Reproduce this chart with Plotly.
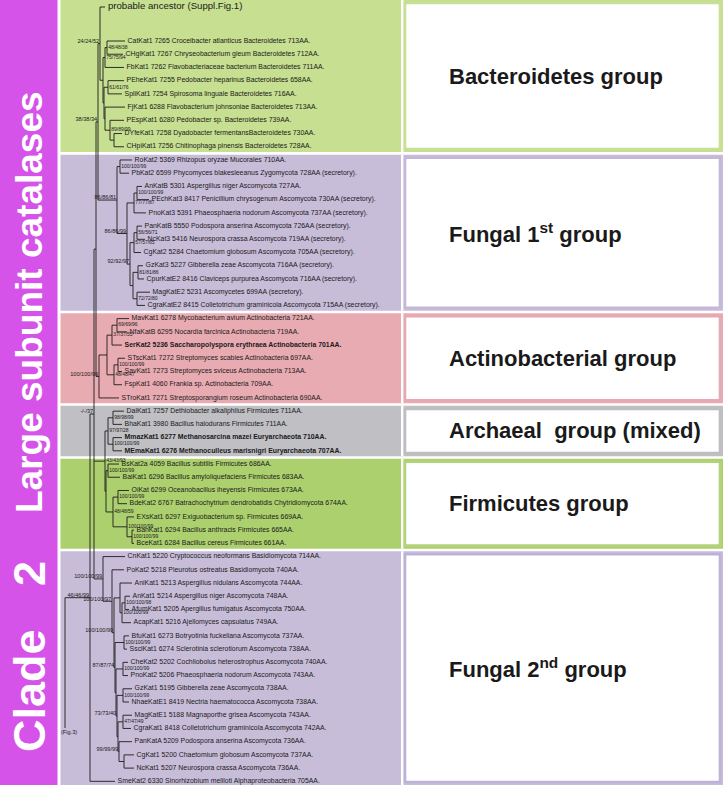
import re
import plotly.graph_objects as go

# ---------------- data ----------------
# Tree topology (Newick, internal nodes named, branch lengths in drawing units)
BACT = ("(((CatKat1:18,CHglKat1:16)N48:2,FbKat1:19)B1:2,((PEheKat1:16,SpliKat1:14)B2:4,"
        "(FjKat1:20,(PEspKat1:14,(DYfeKat1:8,CHpiKat1:10)Z1:4)B3:5)Bx:1)Brest:1)Bact:3")
FUNG1 = ("((RoKat2:12,PbKat2:9)RP:3,(((AnKatB:5,PEchKat3:12)AP:3,PnoKat3:12)AscA:7,"
         "(((PanKatB:5,NcKat3:8)PN:3,CgKat2:7)Sord:4,((GzKat3:5,CpurKatE2:6)GC:5,"
         "(MagKatE2:13,CgraKatE2:8)MC:4)GM:3)AscB:3)Asco:10)F1:19")
ACTINO = ("((((MavKat1:12,NfaKatB:10)MN:5,SerKat2:10)A2:5,((STscKat1:7,SavKat1:4)SS:4,"
          "FspKat1:8)A3:7)A1:8,STroKat1:20)Act:3")
ARCH_FIRM = ("(((DalKat1:11,BhaKat1:9)DB:5,(MmazKat1:9,MEmaKat1:9)MM:5)Ar:3,"
             "((BsKat2a:11,BaiKat1:12)BB:2,((OiKat:11,BdeKat2:9)OB:5,"
             "(EXsKat1:7,(BanKat1:2,BceKat1:2)BB2:5)EB:14)Fi2:7)Fi:1)AF:11")
FUNG2 = ("(CnKat1:22,(PoKat2:12,((AniKat1:12,((AnKat1:5,AfumKat1:4)Fd:3,AcapKat1:9)Fe:2)Fc:6,"
         "((BfuKat1:5,SsclKat1:3)Bf:9,((CheKat2:5,PnoKat2:5)Ch:7,((GzKat1:9,NhaeKatE1:6)Gz2:6,"
         "((MagKatE1:9,CgraKat1:8)Mg:5,(PanKatA:13,(CgKat1:10,NcKat1:10)Fp:5)Fq:1)F2g:1)F2f:1)F2e:1)F2d:1)"
         "F2c:2)F2b:9)F2a:9")
U3 = "((ANC:5," + BACT + ")Xanc:2," + FUNG1 + ")U3:2"
U2 = "(" + U3 + "," + ACTINO + ")U2:2"
T2 = "(" + U2 + "," + ARCH_FIRM + "," + FUNG2 + ")T2:4"
NEWICK = "((" + T2 + ",SmeKat2:25)T1:25,FIG3:0)R;"

LEAF_TEXT = {
    "ANC": "probable ancestor (Suppl.Fig.1)",
    "CatKat1": "CatKat1 7265 Croceibacter atlanticus Bacteroidetes 713AA.",
    "CHglKat1": "CHglKat1 7267 Chryseobacterium gleum Bacteroidetes 712AA.",
    "FbKat1": "FbKat1 7262 Flavobacteriaceae bacterium Bacteroidetes 711AA.",
    "PEheKat1": "PEheKat1 7255 Pedobacter heparinus Bacteroidetes 658AA.",
    "SpliKat1": "SpliKat1 7254 Spirosoma linguale Bacteroidetes 716AA.",
    "FjKat1": "FjKat1 6288 Flavobacterium johnsoniae Bacteroidetes 713AA.",
    "PEspKat1": "PEspKat1 6280 Pedobacter sp. Bacteroidetes 739AA.",
    "DYfeKat1": "DYfeKat1 7258 Dyadobacter fermentansBacteroidetes 730AA.",
    "CHpiKat1": "CHpiKat1 7256 Chitinophaga pinensis Bacteroidetes 728AA.",
    "RoKat2": "RoKat2 5369 Rhizopus oryzae Mucorales 710AA.",
    "PbKat2": "PbKat2 6599 Phycomyces blakesleeanus Zygomycota 728AA (secretory).",
    "AnKatB": "AnKatB 5301 Aspergillus niger Ascomycota 727AA.",
    "PEchKat3": "PEchKat3 8417 Penicillium chrysogenum Ascomycota 730AA (secretory).",
    "PnoKat3": "PnoKat3 5391 Phaeosphaeria nodorum Ascomycota 737AA (secretory).",
    "PanKatB": "PanKatB 5550 Podospora anserina Ascomycota 726AA (secretory).",
    "NcKat3": "NcKat3 5416 Neurospora crassa Ascomycota 719AA (secretory).",
    "CgKat2": "CgKat2 5284 Chaetomium globosum Ascomycota 705AA (secretory).",
    "GzKat3": "GzKat3 5227 Gibberella zeae Ascomycota 716AA (secretory).",
    "CpurKatE2": "CpurKatE2 8416 Claviceps purpurea Ascomycota 716AA (secretory).",
    "MagKatE2": "MagKatE2 5231 Ascomycetes 699AA (secretory).",
    "CgraKatE2": "CgraKatE2 8415 Colletotrichum graminicola Ascomycota 715AA (secretory).",
    "MavKat1": "MavKat1 6278 Mycobacterium avium Actinobacteria 721AA.",
    "NfaKatB": "NfaKatB 6295 Nocardia farcinica Actinobacteria 719AA.",
    "SerKat2": "SerKat2 5236 Saccharopolyspora erythraea Actinobacteria 701AA.",
    "STscKat1": "STscKat1 7272 Streptomyces scabies Actinobacteria 697AA.",
    "SavKat1": "SavKat1 7273 Streptomyces sviceus Actinobacteria 713AA.",
    "FspKat1": "FspKat1 4060 Frankia sp. Actinobacteria 709AA.",
    "STroKat1": "STroKat1 7271 Streptosporangium roseum Actinobacteria 690AA.",
    "DalKat1": "DalKat1 7257 Dethiobacter alkaliphilus Firmicutes 711AA.",
    "BhaKat1": "BhaKat1 3980 Bacillus halodurans Firmicutes 711AA.",
    "MmazKat1": "MmazKat1 6277 Methanosarcina mazei Euryarchaeota 710AA.",
    "MEmaKat1": "MEmaKat1 6276 Methanoculleus marisnigri Euryarchaeota 707AA.",
    "BsKat2a": "BsKat2a 4059 Bacillus subtilis Firmicutes 686AA.",
    "BaiKat1": "BaiKat1 6296 Bacillus amyloliquefaciens Firmicutes 683AA.",
    "OiKat": "OiKat 6299 Oceanobacillus iheyensis Firmicutes 673AA.",
    "BdeKat2": "BdeKat2 6767 Batrachochytrium dendrobatidis Chytridiomycota 674AA.",
    "EXsKat1": "EXsKat1 6297 Exiguobacterium sp. Firmicutes 669AA.",
    "BanKat1": "BanKat1 6294 Bacillus anthracis Firmicutes 665AA.",
    "BceKat1": "BceKat1 6284 Bacillus cereus Firmicutes 661AA.",
    "CnKat1": "CnKat1 5220 Cryptococcus neoformans Basidiomycota 714AA.",
    "PoKat2": "PoKat2 5218 Pleurotus ostreatus Basidiomycota 740AA.",
    "AniKat1": "AniKat1 5213 Aspergillus nidulans Ascomycota 744AA.",
    "AnKat1": "AnKat1 5214 Aspergillus niger Ascomycota 748AA.",
    "AfumKat1": "AfumKat1 5205 Apergillus fumigatus Ascomycota 750AA.",
    "AcapKat1": "AcapKat1 5216 Ajellomyces capsulatus 749AA.",
    "BfuKat1": "BfuKat1 6273 Botryotinia fuckeliana Ascomycota 737AA.",
    "SsclKat1": "SsclKat1 6274 Sclerotinia sclerotiorum Ascomycota 738AA.",
    "CheKat2": "CheKat2 5202 Cochliobolus heterostrophus Ascomycota 740AA.",
    "PnoKat2": "PnoKat2 5206 Phaeosphaeria nodorum Ascomycota 743AA.",
    "GzKat1": "GzKat1 5195 Gibberella zeae Ascomycota 738AA.",
    "NhaeKatE1": "NhaeKatE1 8419 Nectria haematococca Ascomycota 738AA.",
    "MagKatE1": "MagKatE1 5188 Magnaporthe grisea Ascomycota 743AA.",
    "CgraKat1": "CgraKat1 8418 Colletotrichum graminicola Ascomycota 742AA.",
    "PanKatA": "PanKatA 5209 Podospora anserina Ascomycota 736AA.",
    "CgKat1": "CgKat1 5200 Chaetomium globosum Ascomycota 737AA.",
    "NcKat1": "NcKat1 5207 Neurospora crassa Ascomycota 736AA.",
    "SmeKat2": "SmeKat2 6330 Sinorhizobium meliloti Alphaproteobacteria 705AA.",
    "FIG3": "(Fig.3)",
}
BOLD_LEAVES = ["SerKat2", "MmazKat1", "MEmaKat1"]

SUPPORT = {
    "Xanc": "24/24/52", "U3": "38/38/34", "N48": "48/48/38", "B1": "75/75/94",
    "B2": "61/61/76", "B3": "89/89/99", "F1": "86/86/81", "RP": "100/100/99",
    "Asco": "86/86/99", "AP": "100/100/99", "AscA": "77/77/87", "AscB": "92/92/97",
    "PN": "56/56/71", "Sord": "57/57/65", "GC": "81/81/86", "MC": "72/72/80",
    "Act": "100/100/99", "MN": "69/69/96", "A2": "37/37/55", "SS": "100/100/99",
    "A3": "48/48/47", "T2": "-/-/37", "AF": "43/43/93", "Ar": "97/97/28",
    "DB": "98/98/99", "MM": "100/100/99", "BB": "100/100/99", "OB": "100/100/99",
    "Fi2": "48/48/59", "EB": "100/100/99", "BB2": "100/100/99", "F2a": "100/100/99",
    "F2b": "100/100/97", "F2c": "100/100/99", "Fd": "100/100/98", "Fe": "100/100/99",
    "Bf": "100/100/99", "F2d": "87/87/74", "Ch": "100/100/99", "Gz2": "100/100/99",
    "F2f": "73/73/40", "Mg": "47/47/49", "Fq": "99/99/99", "T1": "46/46/99",
}
LEFT_SUPPORT = ["Xanc", "U3", "F1", "Asco", "AscB", "Act", "T2", "F2a", "F2b",
                "F2c", "F2d", "F2f", "Fq", "T1"]

GROUP_NAMES = ["Bacteroidetes group", "Fungal 1<sup>st</sup> group", "Actinobacterial group",
               "Archaeal\u00a0 group (mixed)", "Firmicutes group", "Fungal 2<sup>nd</sup> group"]
GROUP_FIRST_LEAF = ["CatKat1", "RoKat2", "MavKat1", "DalKat1", "BsKat2a", "CnKat1"]
GROUP_FILL = ["#c6df90", "#c8bdd9", "#e9abb2", "#bfbfc4", "#add06f", "#c8bdd9"]
GROUP_EDGE = ["#c8e096", "#c4b8da", "#e6a9b2", "#bdbdc2", "#b2d37a", "#bcb1d6"]
SIDE_TITLE = "Large subunit catalases"
CLADE_WORD, CLADE_NUM = "Clade", "2"

# ---------------- layout constants ----------------
W, H = 723, 785
FONT = "Arial, 'Liberation Sans', sans-serif"
BAND_COLOR = "#d653ea"
ROOT_X = 65
Y0, STEP = 41, 13.22
ANC_Y, FIG3_Y = 7, 728
PANEL_X0, PANEL_X1 = 60.5, 401
BOX_X0, BOX_X1 = 404, 721


def parse(s):
    pos = 0

    def node():
        nonlocal pos
        children = []
        if s[pos] == "(":
            pos += 1
            while True:
                children.append(node())
                if s[pos] == ",":
                    pos += 1
                    continue
                if s[pos] == ")":
                    pos += 1
                    break
        m = re.match(r"([^:,();]*)(?::([0-9.]+))?", s[pos:])
        pos += m.end()
        return {"name": m.group(1), "len": float(m.group(2) or 0), "children": children}

    return node()


root = parse(NEWICK)
leaves = []


def place(n, px):
    n["x"] = px + n["len"]
    for c in n["children"]:
        place(c, n["x"])
    if not n["children"]:
        leaves.append(n)


place(root, ROOT_X)
k = 0
for lf in leaves:
    if lf["name"] == "ANC":
        lf["y"] = ANC_Y
    elif lf["name"] == "FIG3":
        lf["y"] = FIG3_Y
    else:
        lf["y"] = Y0 + k * STEP
        k += 1


def sety(n):
    if n["children"]:
        for c in n["children"]:
            sety(c)
        n["y"] = (n["children"][0]["y"] + n["children"][-1]["y"]) / 2


sety(root)

xs, ys = [], []
internal = []


def segs(n):
    if n["children"]:
        internal.append(n)
        xs.extend([n["x"], n["x"], None])
        ys.extend([n["children"][0]["y"], n["children"][-1]["y"], None])
        for c in n["children"]:
            xs.extend([n["x"], c["x"], None])
            ys.extend([c["y"], c["y"], None])
            segs(c)


segs(root)
leaf_y = {lf["name"]: lf["y"] for lf in leaves}
leaf_names = [lf["name"] for lf in leaves if lf["name"] not in ("ANC", "FIG3")]

fig = go.Figure()
shapes = [dict(type="rect", xref="x", yref="y", x0=0, x1=57.5, y0=0, y1=H,
               fillcolor=BAND_COLOR, line_width=0, layer="below")]
bounds = []
for i, first in enumerate(GROUP_FIRST_LEAF):
    idx = leaf_names.index(first)
    top = 0 if i == 0 else (leaf_y[leaf_names[idx - 1]] + leaf_y[first]) / 2 + 1.3
    if i + 1 < len(GROUP_FIRST_LEAF):
        nidx = leaf_names.index(GROUP_FIRST_LEAF[i + 1])
        bot = (leaf_y[leaf_names[nidx - 1]] + leaf_y[leaf_names[nidx]]) / 2 - 1.3
    else:
        bot = H
    bounds.append((top, bot))
    shapes.append(dict(type="rect", xref="x", yref="y", x0=PANEL_X0, x1=W, y0=top, y1=bot,
                       fillcolor=GROUP_FILL[i], line_width=0, layer="below"))
    shapes.append(dict(type="rect", xref="x", yref="y", x0=PANEL_X1, x1=BOX_X0 - 0.5,
                       y0=top, y1=bot, fillcolor="white", line_width=0, layer="below"))
    shapes.append(dict(type="rect", xref="x", yref="y", x0=BOX_X0 + 1, x1=BOX_X1 - 1,
                       y0=top + 3, y1=bot - 3, fillcolor="white",
                       line=dict(color=GROUP_EDGE[i], width=2.6), layer="below"))

fig.add_trace(go.Scatter(x=xs, y=ys, mode="lines", line=dict(color="#1c1c1c", width=0.9),
                         hoverinfo="skip"))

reg = [lf for lf in leaves if lf["name"] not in ("ANC", "FIG3")]
fig.add_trace(go.Scatter(
    x=[lf["x"] + 2.6 for lf in reg], y=[lf["y"] for lf in reg], mode="text",
    text=[("<b>%s</b>" % LEAF_TEXT[lf["name"]]) if lf["name"] in BOLD_LEAVES else LEAF_TEXT[lf["name"]]
          for lf in reg],
    textposition="middle right", textfont=dict(family=FONT, size=6.9, color="#1a1a1a"),
    hoverinfo="skip"))
anc = [lf for lf in leaves if lf["name"] == "ANC"][0]
fig.add_trace(go.Scatter(x=[anc["x"] + 3], y=[anc["y"]], mode="text", text=[LEAF_TEXT["ANC"]],
                         textposition="middle right",
                         textfont=dict(family=FONT, size=9.6, color="#1a1a1a"), hoverinfo="skip"))
f3 = [lf for lf in leaves if lf["name"] == "FIG3"][0]
fig.add_trace(go.Scatter(x=[f3["x"] - 4], y=[f3["y"] + 5], mode="text", text=[LEAF_TEXT["FIG3"]],
                         textposition="middle right",
                         textfont=dict(family=FONT, size=5.6, color="#1a1a1a"), hoverinfo="skip"))

lefts = [n for n in internal if n["name"] in SUPPORT and n["name"] in LEFT_SUPPORT]
rights = [n for n in internal if n["name"] in SUPPORT and n["name"] not in LEFT_SUPPORT]
fig.add_trace(go.Scatter(x=[n["x"] - 0.8 for n in lefts], y=[n["y"] - 2 for n in lefts],
                         mode="text", text=[SUPPORT[n["name"]] for n in lefts],
                         textposition="middle left",
                         textfont=dict(family=FONT, size=5.6, color="#1a1a1a"), hoverinfo="skip"))
fig.add_trace(go.Scatter(x=[n["x"] + 1.2 for n in rights], y=[n["y"] for n in rights],
                         mode="text", text=[SUPPORT[n["name"]] for n in rights],
                         textposition="middle right",
                         textfont=dict(family=FONT, size=5.0, color="#1a1a1a"), hoverinfo="skip"))

annotations = []
for i, name in enumerate(GROUP_NAMES):
    top, bot = bounds[i]
    annotations.append(dict(x=447, y=(top + bot) / 2, xref="x", yref="y", text=name,
                            showarrow=False, xanchor="left", yanchor="middle",
                            font=dict(family=FONT, size=22, color="#1a1a1a", weight="bold")))
annotations.append(dict(x=29, y=302, xref="x", yref="y", text=SIDE_TITLE, showarrow=False,
                        textangle=-90, xanchor="center", yanchor="middle",
                        font=dict(family=FONT, size=37, color="white", weight="bold")))
annotations.append(dict(x=29, y=691, xref="x", yref="y", text=CLADE_WORD, showarrow=False,
                        textangle=-90, xanchor="center", yanchor="middle",
                        font=dict(family=FONT, size=45, color="white", weight="bold")))
annotations.append(dict(x=29, y=574, xref="x", yref="y", text=CLADE_NUM, showarrow=False,
                        textangle=-90, xanchor="center", yanchor="middle",
                        font=dict(family=FONT, size=45, color="white", weight="bold")))

fig.update_layout(
    width=W, height=H, margin=dict(l=0, r=0, t=0, b=0), showlegend=False,
    paper_bgcolor="white", plot_bgcolor="white", shapes=shapes, annotations=annotations,
    xaxis=dict(range=[0, W], visible=False, fixedrange=True),
    yaxis=dict(range=[H, 0], visible=False, fixedrange=True),
)
fig.write_html("out.html", config={"displayModeBar": False},
               post_script="document.body.style.margin='0px';")
